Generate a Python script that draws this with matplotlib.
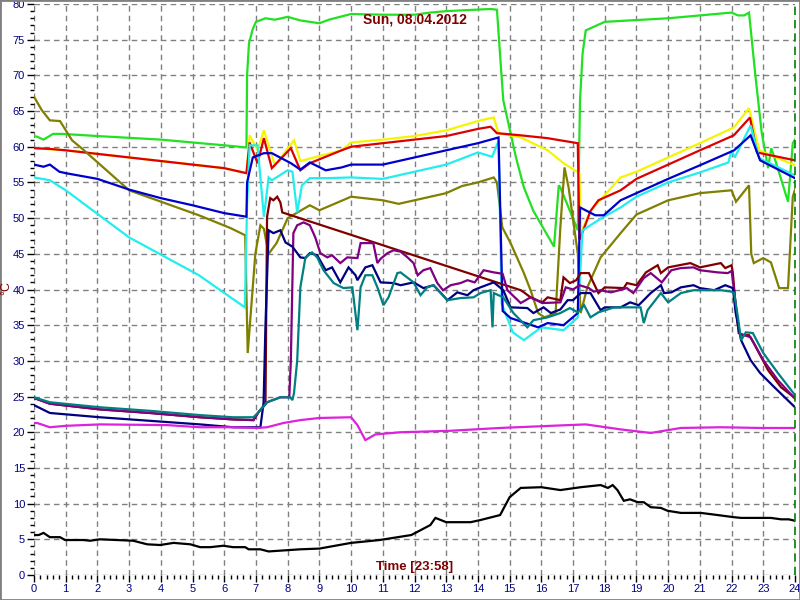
import matplotlib
matplotlib.use("Agg")
import matplotlib.pyplot as plt
from matplotlib.patches import Rectangle

plt.rcParams['font.family'] = ['Liberation Sans', 'DejaVu Sans']

# hours / temperatures
green_h = [0, 0.1, 0.3, 0.6, 0.9, 2, 4, 6, 6.7, 6.72, 6.78, 6.9, 7.0, 7.3, 7.6, 8, 8.4, 9.0, 9.3, 10, 11, 12, 12.5, 13,
           13.45, 14.4, 14.6, 14.65, 14.8, 15.2, 15.45, 15.75, 16.4, 16.55, 16.6, 17.15, 17.22, 17.3, 17.4, 18, 20, 22,
           22.2, 22.4, 22.55, 22.75, 22.95, 23.15, 23.25, 23.35, 23.78, 23.93, 24]
green_v = [61.5, 61.4, 61.0, 61.8, 61.8, 61.5, 61.0, 60.2, 59.9, 70, 74.5, 76.5, 77.5, 78.0, 77.8, 78.2, 77.7, 77.3,
           77.8, 78.6, 78.5, 78.5, 78.8, 79.0, 79.1, 79.3, 79.2, 76, 66.5, 58.5, 54.3, 51, 46, 54.6, 54.3, 48.3, 66.5,
           73, 76.3, 77.5, 78, 78.8, 78.4, 78.4, 78.8, 70, 62, 57, 59.8, 58.5, 52.3, 60.5, 61]

red_h = [0, 0.5, 1, 2, 3, 4, 5, 6, 6.7, 6.8, 7.05, 7.25, 7.5, 8.1, 8.4, 8.7, 9.7, 10, 11, 12, 13, 14, 14.4, 14.6,
         15.35, 16.2, 16.6, 17.15, 17.2, 17.3, 17.55, 17.8, 18.5, 19, 20, 21, 22.07, 22.58, 22.8, 24]
red_v = [59.8, 59.7, 59.5, 59, 58.5, 58, 57.5, 57, 56.3, 60.6, 57.7, 61.2, 57, 59.8, 56.7, 57.7, 59.5, 60, 60.5, 61,
         61.5, 62.5, 62.8, 61.9, 61.6, 61.2, 60.9, 60.5, 47, 48, 51, 52.5, 53.9, 55.5, 57.5, 59.5, 61.6, 64.1, 59.2, 58.1]

yellow_h = [0, 1, 2, 3, 4, 5, 6, 6.7, 6.8, 7.05, 7.25, 7.6, 8.2, 8.4, 9.7, 10, 11, 12, 13, 14.08, 14.5, 14.65, 15.35,
            16.2, 16.7, 17.2, 17.25, 17.35, 17.55, 18.5, 19, 20, 21, 22.07, 22.55, 22.87, 24]
yellow_v = [59.8, 59.5, 59, 58.5, 58, 57.5, 57, 56.3, 61.6, 59.5, 62.3, 57.4, 60.9, 58, 59.5, 60.6, 61, 61.5, 62.3,
            63.7, 64.1, 61.9, 61.3, 59.5, 57.7, 56.3, 48, 49, 51, 55.7, 56.5, 58.5, 60.5, 62.7, 65.4, 59.5, 57.4]

blue_h = [0, 0.3, 0.5, 0.8, 1, 2, 3, 4, 5, 6, 6.7, 6.72, 6.9, 7.25, 7.5, 8.1, 8.4, 8.7, 9.2, 9.7, 10, 11, 12, 13, 14,
          14.65, 14.78, 15.03, 15.9, 16.2, 16.7, 17.15, 17.22, 17.7, 17.97, 18.5, 19, 20, 21, 22.08, 22.6, 22.9, 24]
blue_v = [57.5, 57.2, 57.5, 56.5, 56.3, 55.5, 54, 52.8, 51.8, 50.7, 50.2, 55, 58.5, 59.1, 59.1, 57.7, 56.8, 57.8, 56.7,
          57.1, 57.5, 57.5, 58.5, 59.5, 60.5, 61.3, 37, 36, 34.7, 35.3, 35, 36.7, 51.5, 50.4, 50.4, 52.5, 53.5, 55.5,
          57.4, 59.5, 61.6, 58.1, 55.6]

cyan_h = [0, 0.5, 1, 3, 5.2, 6.65, 6.72, 6.8, 7.05, 7.25, 7.4, 7.5, 8.0, 8.15, 8.3, 8.45, 8.7, 9.25, 10, 11, 12, 13,
          14, 14.45, 14.65, 14.75, 15.1, 15.45, 16, 16.7, 17.15, 17.3, 17.9, 18.5, 19, 20, 21, 21.9, 22.0, 22.1, 22.6,
          22.87, 24]
cyan_v = [55.7, 55.3, 53.9, 47.3, 42, 37.5, 52, 60.2, 60.2, 50.2, 55.7, 55.3, 56.7, 56.5, 50.8, 54.6, 55.6, 55.6, 55.7,
          55.5, 56.5, 57.5, 59.2, 58.6, 60.8, 38, 34, 32.9, 34.7, 34.3, 36.1, 48.3, 50, 51.5, 53, 55, 56.4, 57.8, 59.5,
          58.5, 63, 58.4, 56]

olive_h = [0, 0.25, 0.5, 0.82, 1.2, 1.5, 3, 5.2, 6.2, 6.66, 6.74, 6.98, 7.14, 7.25, 7.4, 7.65, 8.0, 8.7, 9.0, 10, 11,
           11.5, 12, 13, 13.5, 14, 14.5, 14.6, 14.77, 15.03, 15.45, 15.66, 15.9, 16.1, 16.45, 16.6, 16.73, 16.86,
           17.15, 17.24, 17.45, 17.87, 18.5, 19, 20, 21, 22.0, 22.14, 22.55, 22.62, 22.7, 23.0, 23.24, 23.5, 23.78,
           23.93, 24]
olive_v = [67, 65.1, 63.7, 63.6, 60.9, 59.8, 53.9, 50.4, 48.6, 47.6, 31.1, 45, 49, 48.5, 45, 46.5, 50, 51.8, 51.1,
           53, 52.5, 52, 52.5, 53.5, 54.5, 55, 55.7, 55, 48.7, 46.5, 42.3, 39.9, 36.7, 36.1, 36.7, 48.7, 57.1, 54.3,
           45, 36.7, 40.3, 44.5, 47.9, 50.5, 52.5, 53.5, 53.9, 52.3, 54.6, 45, 43.7, 44.4, 43.8, 40.2, 40.2, 53, 54]

maroon_h = [0, 0.5, 2.08, 3.66, 5.24, 6.28, 6.92, 7.08, 7.3, 7.35, 7.45, 7.55, 7.67, 7.77, 7.83, 15.35, 15.45, 15.66,
            16.03, 16.2, 16.6, 16.7, 16.9, 17.1, 17.24, 17.5, 17.8, 18.0, 18.6, 18.7, 19.0, 19.3, 19.67, 19.77, 20.0,
            20.7, 21.0, 21.66, 21.8, 22.0, 22.04, 22.13, 22.23, 22.35, 22.55, 22.7, 23.15, 23.56, 23.97, 24]
maroon_v = [24.8, 24.0, 23.2, 22.7, 22.1, 21.8, 21.7, 22.8, 24, 50.2, 52.8, 52.5, 53, 52.2, 50.8, 39.9, 39.6, 38.9,
            38.2, 38.9, 38.5, 41.7, 40.9, 41.3, 42.3, 42.3, 39.5, 40.3, 40.2, 40.9, 40.6, 42.4, 43.4, 42.3, 43.1, 43.7,
            43.1, 43.7, 43, 43.4, 42.3, 37.5, 33.9, 33.6, 33.6, 32.5, 28.7, 26.3, 24.9, 24.8]

purple_h = [0, 0.5, 2.08, 3.66, 5.24, 6.28, 6.92, 7.08, 7.35, 7.77, 8.05, 8.1, 8.18, 8.3, 8.5, 8.7, 8.87, 9.03, 9.25,
            9.4, 9.66, 9.88, 10.2, 10.3, 10.7, 10.83, 10.93, 11.15, 11.34, 11.56, 11.78, 11.97, 12.1, 12.28, 12.5,
            12.72, 12.9, 13.14, 13.45, 13.67, 13.9, 14.18, 14.5, 14.78, 14.93, 15.35, 15.66, 16.03, 16.6, 16.77,
            17.0, 17.2, 17.5, 17.65, 17.87, 18.2, 18.7, 18.9, 19.23, 19.45, 19.8, 20.1, 20.4, 20.8, 21.0, 21.56,
            21.88, 22.0, 22.08, 22.23, 22.4, 22.6, 23.0, 23.46, 24]
purple_v = [24.8, 24.0, 23.2, 22.7, 22.1, 21.8, 21.7, 22.8, 24.2, 24.9, 24.9, 30, 47.9, 49, 49.4, 49, 47.3, 45.1,
            44.5, 44.8, 43.7, 44.5, 44.4, 46.5, 46.5, 43.7, 44.3, 45.1, 45.5, 45.3, 44.5, 43.7, 42, 42.7, 43, 40.9,
            39.9, 40.6, 40.9, 41.3, 41, 42.7, 42.4, 42.2, 39.9, 38.1, 38.9, 38.1, 38.2, 40.3, 40, 40.6, 40.2, 39.7,
            39.9, 39.6, 40.2, 39.5, 41.6, 42.3, 41, 42.7, 43, 43.1, 42.7, 42.4, 42.3, 42.6, 39.9, 33.9, 33.6, 33.3,
            30.1, 27.3, 24.7]

navy_h = [0, 0.5, 2.08, 3.66, 5.24, 6.28, 6.92, 7.14, 7.24, 7.3, 7.4, 7.55, 7.77, 7.93, 8.15, 8.4, 8.56, 8.7, 8.93,
          9.2, 9.4, 9.66, 9.92, 10.14, 10.2, 10.45, 10.67, 10.93, 11.34, 11.56, 11.97, 12.28, 12.6, 13.04, 13.35,
          13.67, 13.86, 14.08, 14.5, 14.8, 15.03, 15.56, 15.75, 16.07, 16.3, 16.6, 16.83, 17.0, 17.24, 17.55, 17.87,
          18.0, 18.5, 18.8, 19.07, 19.45, 19.77, 19.87, 20.1, 20.4, 20.8, 21.0, 21.45, 21.8, 22.04, 22.13, 22.3,
          22.6, 22.9, 23.35, 24]
navy_v = [23.8, 22.7, 22.1, 21.6, 21.1, 20.7, 20.7, 20.7, 24.1, 35, 48.3, 47.9, 48.3, 46.6, 46, 44.5, 44.4, 45.1,
          44.8, 42.7, 43.1, 41, 43.1, 42, 41.3, 43.1, 43.4, 41, 40.9, 40.6, 41, 40.2, 40.6, 38.5, 39.6, 39.2, 39.9,
          40.3, 41, 39.9, 37.5, 37.4, 36.7, 37.5, 36.7, 37.2, 38.5, 38.5, 39.5, 39.5, 37.1, 37.5, 37.5, 38.2, 37.8,
          39.5, 40.6, 39.5, 39.6, 40.3, 40.6, 40.2, 39.9, 40.6, 40.2, 36.7, 32.9, 30.1, 28.3, 26.3, 23.5]

teal_h = [0, 0.5, 2.08, 3.66, 5.24, 6.28, 6.92, 7.08, 7.35, 7.77, 8.08, 8.15, 8.2, 8.3, 8.4, 8.56, 8.77, 8.93, 9.13,
          9.45, 9.76, 10.04, 10.2, 10.3, 10.45, 10.67, 10.83, 11.02, 11.18, 11.46, 11.56, 11.97, 12.19, 12.4, 12.6,
          13.04, 13.45, 13.86, 14.08, 14.4, 14.46, 14.5, 14.8, 15.12, 15.56, 15.75, 16.2, 16.6, 16.9, 17.15, 17.35,
          17.55, 17.8, 18.3, 19.13, 19.23, 19.35, 19.77, 20.0, 20.4, 20.8, 21.25, 21.66, 22.0, 22.08, 22.2, 22.3,
          22.45, 22.67, 23.0, 23.46, 24]
teal_v = [24.9, 24.2, 23.5, 23.0, 22.4, 22.1, 22.1, 22.8, 24.2, 24.9, 24.9, 24.5, 25.5, 30, 40.3, 44.5, 45.2, 44.5,
          42.7, 40.9, 40.2, 40.3, 34.3, 40.3, 42, 42, 40.3, 37.8, 38.9, 42.3, 42.4, 41, 39.2, 40.3, 40.6, 38.5, 38.8,
          38.9, 39.5, 39.9, 34.7, 39.5, 38.9, 36.7, 34.7, 35.7, 36.1, 36.7, 37.4, 36.8, 37.8, 36.1, 36.8, 37.5, 37.5,
          35.3, 37.1, 39.5, 38.2, 39.5, 39.9, 39.9, 39.9, 39.7, 39.5, 36.1, 32.9, 34, 33.9, 31.1, 28.3, 25.2]

magenta_h = [0, 0.1, 0.5, 1.0, 2.08, 4.2, 5.24, 6.28, 7.04, 7.35, 7.87, 8.4, 9.0, 10.0, 10.2, 10.45, 10.77, 11.56,
             13.1, 14.7, 16.3, 17.4, 18.5, 19.45, 20.4, 21.66, 22.9, 24]
magenta_v = [21.3, 21.3, 20.7, 20.9, 21.1, 21.0, 20.7, 20.7, 20.6, 20.7, 21.3, 21.7, 22, 22.1, 21.0, 18.9, 19.7, 20,
             20.2, 20.6, 20.9, 21.1, 20.4, 19.9, 20.6, 20.7, 20.6, 20.6]

black_h = [0, 0.15, 0.3, 0.5, 0.82, 0.98, 1.55, 1.77, 2.08, 3.13, 3.57, 3.98, 4.4, 4.93, 5.24, 5.56, 5.97, 6.28, 6.66,
           6.77, 7.14, 7.4, 8.4, 9.0, 10.0, 10.9, 11.9, 12.5, 12.66, 13.0, 13.77, 14.08, 14.7, 15.0, 15.35, 16.0, 16.6,
           17.24, 17.87, 18.1, 18.25, 18.4, 18.6, 18.8, 19.04, 19.23, 19.45, 19.77, 19.98, 20.4, 21.03, 21.56, 22.07,
           22.3, 22.92, 23.24, 23.56, 23.8, 24]
black_v = [5.6, 5.6, 5.9, 5.3, 5.3, 4.9, 4.9, 4.8, 5.0, 4.8, 4.3, 4.2, 4.5, 4.3, 3.9, 3.9, 4.1, 3.9, 3.9, 3.6, 3.6, 3.3,
           3.6, 3.7, 4.5, 4.9, 5.6, 7.0, 8.0, 7.4, 7.4, 7.7, 8.4, 10.9, 12.2, 12.3, 11.9, 12.3, 12.6, 12.2, 12.6, 11.9,
           10.4, 10.6, 10.2, 10.2, 9.5, 9.4, 9.0, 8.7, 8.7, 8.4, 8.1, 8.0, 8.0, 8.0, 7.8, 7.8, 7.6]

series = [
    (green_h, green_v, '#22e022'),
    (yellow_h, yellow_v, '#f5f500'),
    (red_h, red_v, '#dd0000'),
    (olive_h, olive_v, '#808000'),
    (cyan_h, cyan_v, '#22eeee'),
    (blue_h, blue_v, '#0000cc'),
    (maroon_h, maroon_v, '#800000'),
    (purple_h, purple_v, '#800080'),
    (navy_h, navy_v, '#000080'),
    (teal_h, teal_v, '#008080'),
    (magenta_h, magenta_v, '#dd22dd'),
    (black_h, black_v, '#000000'),
]

fig = plt.figure(figsize=(8, 6), dpi=100)
ax = fig.add_axes([34 / 800, 1 - 575 / 600, 761 / 800, 571 / 600])

for h, v, c in series:
    ax.plot(h, v, color=c, lw=1.6, solid_joinstyle='miter')

ax.set_xlim(0, 24)
ax.set_ylim(0, 80)
ax.set_xticks(range(0, 25))
ax.set_xticks([i * 0.2 for i in range(121)], minor=True)
ax.set_yticks(range(0, 81, 5))
ax.set_yticks(range(0, 81), minor=True)
# tick sizes are in points: ~7 px major, ~4 px minor at 100 dpi
ax.tick_params(which='both', colors='black', labelcolor='#000080', labelsize=8, pad=1.5)
ax.tick_params(which='major', length=5, width=1)
ax.tick_params(which='minor', length=3, width=1)
for s in ax.spines.values():
    s.set_visible(False)

ax.grid(True, which='major', color='#808080', ls=(0, (4, 3)), lw=1)
ax.set_axisbelow(True)
ax.axvline(24, color='#008000', ls=(0, (5, 3)), lw=1.2, clip_on=False)

ax.text(0.5, 0.985, 'Sun, 08.04.2012', transform=ax.transAxes, ha='center', va='top',
        color='#800000', fontsize=10, fontweight='bold')
ax.text(0.5, 0.003, 'Time [23:58]', transform=ax.transAxes, ha='center', va='bottom',
        color='#800000', fontsize=9.5, fontweight='bold')
fig.text(6 / 800, 1 - 288 / 600, '°C', rotation=90, ha='center', va='center',
         color='#800000', fontsize=9)

fig.patches.append(Rectangle((0, 0), 1, 1, transform=fig.transFigure, fill=False,
                             edgecolor='#808080', lw=2))

fig.savefig('out.png', dpi=100)
